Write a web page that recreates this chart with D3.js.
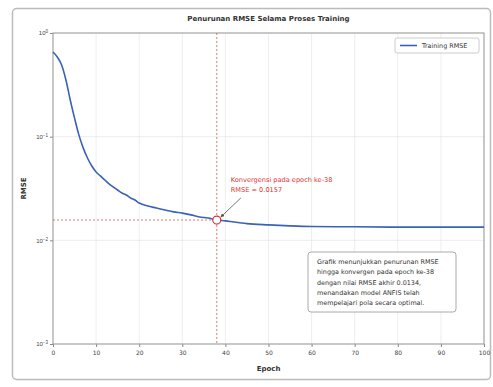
<!DOCTYPE html>
<html>
<head>
<meta charset="utf-8">
<script src="https://cdn.jsdelivr.net/npm/d3@7"></script>
<style>
  body { margin: 0; background: #fff; font-family: "DejaVu Sans", sans-serif; }
</style>
</head>
<body>
<div id="chart"></div>
<script>
// epoch readings and RMSE
var epochs = [0,1,2,3,4,5,6,7,8,9,10,11,12,13,14,15,16,17,18,19,20,22,24,26,28,30,32,34,36,38,40,42,45,50,55,60,70,80,90,100];
var rmse = [0.656,0.587,0.491,0.352,0.226,0.151,0.104,0.078,0.0623,0.0521,0.0457,0.0418,0.0383,0.035,0.0327,0.0306,0.0286,0.0274,0.0256,0.0245,0.0229,0.0214,0.0205,0.0196,0.0188,0.0183,0.0176,0.0168,0.0164,0.0157,0.0154,0.015,0.0145,0.0141,0.0138,0.0136,0.0135,0.0134,0.0134,0.0134];
var xTicks = [0,10,20,30,40,50,60,70,80,90,100];
var yTicks = [1, 0.1, 0.01, 0.001];
var convEpoch = 38, convRmse = 0.0157;
var infoLines = [
  "Grafik menunjukkan penurunan RMSE",
  "hingga konvergen pada epoch ke-38",
  "dengan nilai RMSE akhir 0.0134,",
  "menandakan model ANFIS telah",
  "mempelajari pola secara optimal."
];

var W = 493, H = 387;
var margin = { top: 33, right: 9, bottom: 43, left: 53 };
var width = W - margin.left - margin.right,
    height = H - margin.top - margin.bottom;

var svg = d3.select("#chart").append("svg").attr("width", W).attr("height", H);

// outer frame
svg.append("rect").attr("x", 12.5).attr("y", 8.5).attr("width", 478).attr("height", 371)
  .attr("rx", 4).attr("fill", "#fff").attr("stroke", "#bbb").attr("stroke-width", 1.5);

svg.append("text").attr("x", margin.left + width / 2).attr("y", 21)
  .attr("text-anchor", "middle").attr("font-size", 7).attr("font-weight", "bold")
  .attr("fill", "#333").text("Penurunan RMSE Selama Proses Training");

var g = svg.append("g").attr("transform", "translate(" + margin.left + "," + margin.top + ")");

var x = d3.scaleLinear().domain([0, 100]).range([0, width]);
var y = d3.scaleLog().domain([0.001, 1]).range([height, 0]);

// grid
g.append("g").selectAll("line").data(xTicks).enter().append("line")
  .attr("x1", d => x(d)).attr("x2", d => x(d)).attr("y1", 0).attr("y2", height)
  .attr("stroke", "#e6e6e6").attr("stroke-width", 0.7);
g.append("g").selectAll("line").data(yTicks).enter().append("line")
  .attr("x1", 0).attr("x2", width).attr("y1", d => y(d)).attr("y2", d => y(d))
  .attr("stroke", "#e6e6e6").attr("stroke-width", 0.7);

// axes
var xAxis = g.append("g").attr("transform", "translate(0," + height + ")")
  .call(d3.axisBottom(x).tickValues(xTicks).tickSize(3).tickPadding(4));
var yAxis = g.append("g")
  .call(d3.axisLeft(y).tickValues(yTicks).tickSize(3).tickPadding(3).tickFormat(""));
[xAxis, yAxis].forEach(function (a) {
  a.select(".domain").remove();
  a.selectAll("line").attr("stroke", "#888");
  a.selectAll("text").attr("font-size", 6).attr("fill", "#444").attr("font-family", "DejaVu Sans");
});
yAxis.selectAll(".tick").append("text")
  .attr("x", -5).attr("dy", "0.32em").attr("text-anchor", "end")
  .attr("font-size", 6).attr("fill", "#444")
  .each(function (d) {
    var t = d3.select(this);
    var e = Math.round(Math.log10(d));
    t.append("tspan").text("10");
    t.append("tspan").attr("dy", "-0.5em").attr("font-size", 4.5).text(e < 0 ? "\u2212" + (-e) : e);
  });

g.append("rect").attr("width", width).attr("height", height)
  .attr("fill", "none").attr("stroke", "#999").attr("stroke-width", 1);

// convergence guides
g.append("line").attr("x1", x(convEpoch)).attr("x2", x(convEpoch)).attr("y1", 0).attr("y2", height)
  .attr("stroke", "#e05555").attr("stroke-width", 0.8).attr("stroke-dasharray", "2,2");
g.append("line").attr("x1", 0).attr("x2", x(convEpoch)).attr("y1", y(convRmse)).attr("y2", y(convRmse))
  .attr("stroke", "#e05555").attr("stroke-width", 0.8).attr("stroke-dasharray", "2,2");

// curve
var line = d3.line().x((d, i) => x(epochs[i])).y(d => y(d)).curve(d3.curveMonotoneX);
g.append("path").datum(rmse).attr("d", line)
  .attr("fill", "none").attr("stroke", "#3a62b8").attr("stroke-width", 1.6);

g.append("circle").attr("cx", x(convEpoch)).attr("cy", y(convRmse)).attr("r", 4)
  .attr("fill", "#fff").attr("stroke", "#e03333").attr("stroke-width", 1.2);

// annotation
svg.append("defs").append("marker").attr("id", "ah").attr("viewBox", "0 0 10 10")
  .attr("refX", 9).attr("refY", 5).attr("markerWidth", 5).attr("markerHeight", 5)
  .attr("orient", "auto").append("path").attr("d", "M0,0L10,5L0,10z").attr("fill", "#555");
var ax = x(convEpoch), ay = y(convRmse);
g.append("line").attr("x1", ax + 24).attr("y1", ay - 22).attr("x2", ax + 4).attr("y2", ay - 3)
  .attr("stroke", "#555").attr("stroke-width", 0.8).attr("marker-end", "url(#ah)");
var ann = g.append("text").attr("x", ax + 14).attr("y", ay - 38)
  .attr("font-size", 6.6).attr("fill", "#e03333").attr("font-family", "DejaVu Sans");
ann.append("tspan").attr("x", ax + 14).text("Konvergensi pada epoch ke-" + convEpoch);
ann.append("tspan").attr("x", ax + 14).attr("dy", 10).text("RMSE = " + convRmse.toFixed(4));

// info box
var bx = 255, by = 219;
g.append("rect").attr("x", bx).attr("y", by).attr("width", 148).attr("height", 60).attr("rx", 3)
  .attr("fill", "#fff").attr("stroke", "#aaa").attr("stroke-width", 1);
g.append("g").selectAll("text").data(infoLines).enter().append("text")
  .attr("x", bx + 9).attr("y", (d, i) => by + 12 + i * 10.3)
  .attr("font-size", 6.4).attr("fill", "#333").text(d => d);

// legend
var lg = g.append("g").attr("transform", "translate(" + (width - 89) + ",5)");
lg.append("rect").attr("width", 84).attr("height", 15).attr("rx", 2)
  .attr("fill", "#fff").attr("stroke", "#ccc");
lg.append("line").attr("x1", 5).attr("x2", 22).attr("y1", 7.5).attr("y2", 7.5)
  .attr("stroke", "#3a62b8").attr("stroke-width", 1.6);
lg.append("text").attr("x", 27).attr("y", 10).attr("font-size", 6.4).attr("fill", "#333").text("Training RMSE");

// axis titles
svg.append("text").attr("x", margin.left + width / 2).attr("y", 371)
  .attr("text-anchor", "middle").attr("font-size", 7).attr("font-weight", "bold").attr("fill", "#333").text("Epoch");
svg.append("text").attr("transform", "translate(26," + (margin.top + height / 2) + ") rotate(-90)")
  .attr("text-anchor", "middle").attr("font-size", 7).attr("font-weight", "bold").attr("fill", "#333").text("RMSE");
</script>
</body>
</html>
